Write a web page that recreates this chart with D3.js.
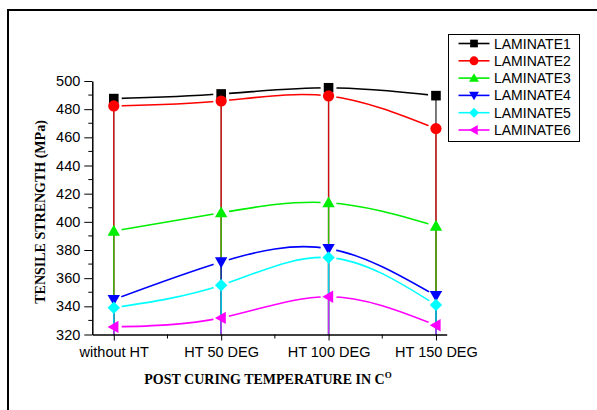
<!DOCTYPE html>
<html>
<head>
<meta charset="utf-8">
<script src="https://cdn.jsdelivr.net/npm/d3@7"></script>
<style>
  body { margin: 0; background: #fff; }
  svg { display: block; }
</style>
</head>
<body>
<div id="chart"></div>
<script>
// categorias del eje x
var categorias = ["without HT", "HT 50 DEG", "HT 100 DEG", "HT 150 DEG"];

// valores de cada laminado (MPa)
var laminate1 = [487.5, 490.8, 495.2, 489.6];
var laminate2 = [482.3, 485.8, 489.4, 466.2];
var laminate3 = [393.5, 406.5, 413.6, 397.0];
var laminate4 = [344.8, 371.5, 381.0, 347.5];
var laminate5 = [339.0, 355.0, 374.6, 341.0];
var laminate6 = [325.4, 331.8, 346.8, 326.6];

var nombres = ["LAMINATE1", "LAMINATE2", "LAMINATE3", "LAMINATE4", "LAMINATE5", "LAMINATE6"];
var yTicks = [320, 340, 360, 380, 400, 420, 440, 460, 480, 500];

var colores = ["#000000", "#ff0000", "#00ee00", "#0000ff", "#00ffff", "#ff00ff"];
var simbolos = ["square", "circle", "up", "down", "diamond", "left"];

var series = [laminate1, laminate2, laminate3, laminate4, laminate5, laminate6].map(function (v, i) {
    return { nombre: nombres[i], valores: v, color: colores[i], simbolo: simbolos[i] };
});

var width = 597, height = 410;
var svg = d3.select("#chart").append("svg")
    .attr("width", width)
    .attr("height", height);

// marco exterior
svg.append("rect")
    .attr("x", 8).attr("y", 10)
    .attr("width", 640).attr("height", 460)
    .attr("fill", "none")
    .attr("stroke", "#000")
    .attr("stroke-width", 2);

var x = d3.scaleLinear().domain([-0.2, 3.1]).range([92.3, 446.7]);
var y = d3.scaleLinear().domain([320, 500]).range([334.5, 81]);

// dibuja un simbolo centrado en (0,0)
function simbolo(g, tipo, color, s) {
    if (tipo === "square") {
        g.append("rect").attr("x", -s * 0.48).attr("y", -s * 0.48)
            .attr("width", s * 0.96).attr("height", s * 0.96).attr("fill", color);
    } else if (tipo === "circle") {
        g.append("circle").attr("r", s * 0.56).attr("fill", color);
    } else {
        var pts;
        var r = s * 0.62;
        if (tipo === "up") pts = [[0, -r], [r, r * 0.75], [-r, r * 0.75]];
        if (tipo === "down") pts = [[0, r], [r, -r * 0.75], [-r, -r * 0.75]];
        if (tipo === "left") pts = [[-r, 0], [r * 0.75, -r], [r * 0.75, r]];
        if (tipo === "diamond") pts = [[0, -r], [r, 0], [0, r], [-r, 0]];
        g.append("polygon").attr("points", pts.map(function (p) { return p.join(","); }).join(" "))
            .attr("fill", color);
    }
}

// lineas verticales hasta el eje
series.forEach(function (s) {
    svg.append("g").selectAll("line")
        .data(s.valores)
        .enter()
        .append("line")
        .attr("x1", function (d, i) { return x(i); })
        .attr("x2", function (d, i) { return x(i); })
        .attr("y1", function (d) { return y(d); })
        .attr("y2", y(320))
        .attr("stroke", s.color)
        .attr("stroke-opacity", 0.8)
        .attr("stroke-width", 1.3);
});

// mascaras para dejar hueco alrededor de los simbolos
var defs = svg.append("defs");
series.forEach(function (s, k) {
    var m = defs.append("mask").attr("id", "m" + k).attr("maskUnits", "userSpaceOnUse")
        .attr("x", 0).attr("y", 0).attr("width", width).attr("height", height);
    m.append("rect").attr("width", width).attr("height", height).attr("fill", "#fff");
    s.valores.forEach(function (d, i) {
        m.append("circle").attr("cx", x(i)).attr("cy", y(d)).attr("r", 8).attr("fill", "#000");
    });
});

var linea = d3.line()
    .x(function (d, i) { return x(i); })
    .y(function (d) { return y(d); })
    .curve(d3.curveNatural);

series.forEach(function (s, k) {
    svg.append("path")
        .datum(s.valores)
        .attr("d", linea)
        .attr("fill", "none")
        .attr("stroke", s.color)
        .attr("stroke-width", 1.6)
        .attr("mask", "url(#m" + k + ")");
});

series.forEach(function (s) {
    s.valores.forEach(function (d, i) {
        var g = svg.append("g").attr("transform", "translate(" + x(i) + "," + y(d) + ")");
        simbolo(g, s.simbolo, s.color, 10);
    });
});

// eje y
var yAxis = svg.append("g")
    .attr("transform", "translate(" + x(-0.2) + ",0)")
    .call(d3.axisLeft(y).tickValues(yTicks).tickSize(8).tickSizeOuter(0).tickPadding(4));
yAxis.selectAll("text").style("font-family", "Liberation Sans, Arial").style("font-size", "14.5px").attr("fill", "#000");
yAxis.select(".domain").attr("stroke-width", 1.5);
yAxis.append("g").selectAll("line")
    .data(d3.range(330, 500, 20))
    .enter().append("line")
    .attr("x1", -4).attr("x2", 0)
    .attr("y1", function (d) { return y(d); })
    .attr("y2", function (d) { return y(d); })
    .attr("stroke", "#000");

// eje x
var xAxis = svg.append("g")
    .attr("transform", "translate(0," + y(320) + ")")
    .call(d3.axisBottom(x).tickValues([0, 1, 2, 3]).tickFormat(function (d) { return categorias[d]; })
        .tickSize(6).tickSizeOuter(0).tickPadding(6));
xAxis.selectAll("text").style("font-family", "Liberation Sans, Arial").style("font-size", "14.5px").attr("fill", "#000");
xAxis.select(".domain").attr("stroke-width", 1.5);
xAxis.append("g").selectAll("line")
    .data([0.5, 1.5, 2.5])
    .enter().append("line")
    .attr("x1", function (d) { return x(d); })
    .attr("x2", function (d) { return x(d); })
    .attr("y1", 0).attr("y2", 4)
    .attr("stroke", "#000");

// titulos de los ejes
svg.append("text")
    .attr("transform", "translate(45,212) rotate(-90)")
    .attr("text-anchor", "middle")
    .style("font-family", "Liberation Serif, Times New Roman")
    .style("font-weight", "bold")
    .style("font-size", "14px")
    .text("TENSILE STRENGTH (MPa)");

var xt = svg.append("text")
    .attr("x", 268).attr("y", 384)
    .attr("text-anchor", "middle")
    .style("font-family", "Liberation Serif, Times New Roman")
    .style("font-weight", "bold")
    .style("font-size", "14px");
xt.append("tspan").text("POST CURING TEMPERATURE IN C");
xt.append("tspan").attr("dy", -6).style("font-size", "9px").text("O");

// leyenda
var leyenda = svg.append("g").attr("transform", "translate(448.5,34.5)");
leyenda.append("rect")
    .attr("width", 131).attr("height", 107)
    .attr("fill", "#fff").attr("stroke", "#000").attr("stroke-width", 1);

var item = leyenda.selectAll(".legend")
    .data(series)
    .enter()
    .append("g")
    .attr("class", "legend")
    .attr("transform", function (d, i) { return "translate(0," + (9 + i * 17.3) + ")"; });
item.append("line")
    .attr("x1", 10).attr("x2", 41)
    .attr("stroke", function (d) { return d.color; })
    .attr("stroke-width", 1.6);
item.each(function (d) {
    var g = d3.select(this).append("g").attr("transform", "translate(25.5,0)");
    simbolo(g, d.simbolo, d.color, 8);
});
item.append("text")
    .attr("x", 45.5)
    .attr("y", 5)
    .style("font-family", "Liberation Sans, Arial")
    .style("font-size", "14px")
    .text(function (d) { return d.nombre; });
</script>
</body>
</html>
